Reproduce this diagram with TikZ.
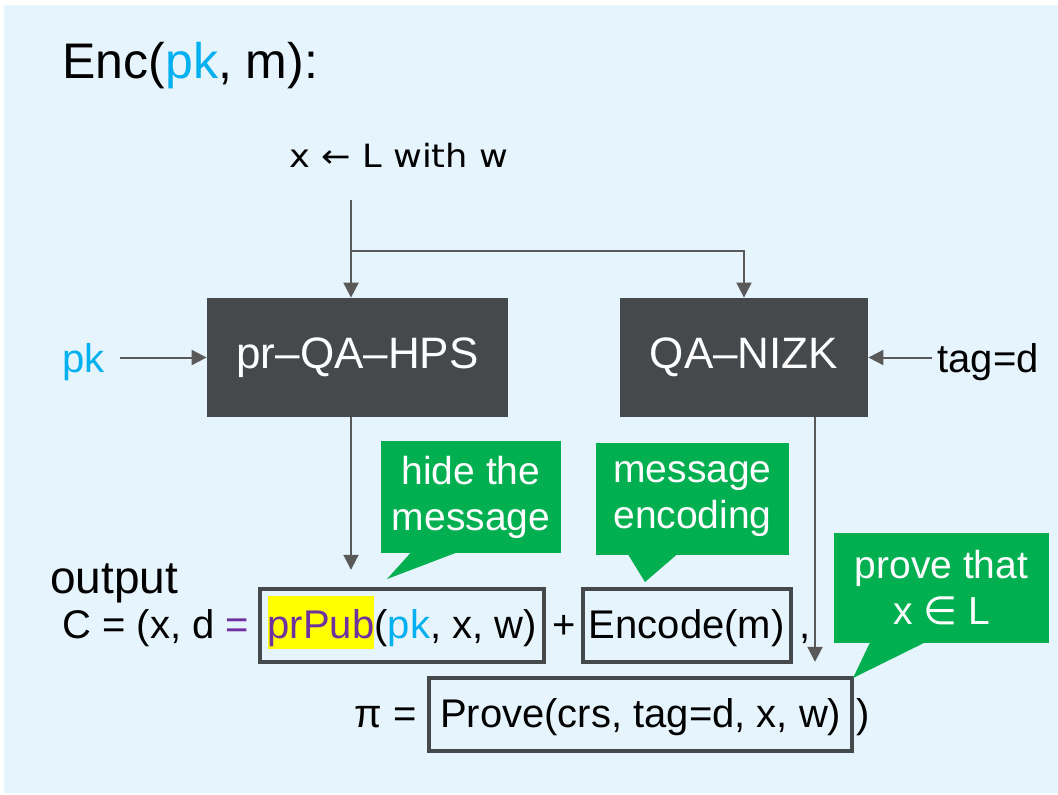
\documentclass[tikz,border=0pt]{standalone}
\usepackage{fontspec}
\setmainfont{Liberation Sans}
\newfontfamily\symfont{DejaVu Sans}
\usepackage{xcolor}
\usetikzlibrary{
    arrows.meta,
    calc,
    positioning,
}
\definecolor{bgblue}{HTML}{E6F4FD}
\definecolor{boxgray}{HTML}{45494C}
\definecolor{linegray}{HTML}{595959}
\definecolor{calloutgreen}{HTML}{00B050}
\definecolor{keycyan}{HTML}{00B0F0}
\definecolor{eqpurple}{HTML}{7030A0}
\definecolor{hlyellow}{HTML}{FFFF00}
\newcommand{\fs}[2]{\fontsize{#1}{#2}\selectfont}
\newcommand{\hl}[1]{{\setlength{\fboxsep}{0pt}\colorbox{hlyellow}{\rule[-5.5pt]{0pt}{26.5pt}#1}}}

\begin{document}
\begin{tikzpicture}[x=0.5pt,y=-0.5pt,>={Triangle[length=7.5pt,width=7.5pt]}]

    \tikzstyle{commonNode}=[inner sep=0pt, align=center]
    \tikzstyle{module}=[commonNode, fill=boxgray, text=white, font=\fs{22}{26}, minimum height=59.5pt]
    \tikzstyle{term}=[commonNode, font=\fs{20}{24}]
    \tikzstyle{slot}=[term, draw=boxgray, line width=2.2pt, text height=24.5pt, text depth=12pt]
    \tikzstyle{callout}=[commonNode, fill=calloutgreen, text=white, font=\fs{19.5}{23}]
    \tikzstyle{link}=[draw=linegray, line width=1pt, ->]

    % Frame
    \useasboundingbox (0,0) rectangle (1058,794);
    \fill[bgblue] (4,5) rectangle (1058,793);

    % Title
    \node at (62,78) [term, anchor=base west, font=\fs{25}{30}] (title) {Enc(\textcolor{keycyan}{pk}, m):};

    % Inputs
    \node at (399,155) [term, font=\symfont\fs{16}{19}] (xin) {\scalebox{1.1}[1]{x ← L with w}};
    \coordinate (xtop) at (351,200);
    \coordinate (split) at (351,251);
    \node at (62,372) [term, anchor=base west, text=keycyan] (pk) {pk};
    \node at (937,372) [term, anchor=base west] (tag) {tag=d};

    % Modules
    \node at (357.5,357.5) [module, minimum width=150.5pt] (hps) {pr–QA–HPS};
    \node at (744,357.5) [module, minimum width=124pt] (nizk) {QA–NIZK};

    % Output
    \node at (50,593) [term, anchor=base west, font=\fs{23}{27}] (outlabel) {output};
    \node at (62,638) [term, anchor=base west] (cline) {C = (x, d \textcolor{eqpurple}{=}};
    \node at (258,638) [slot, anchor=base west, minimum width=142pt] (prpub) {\hl{\textcolor{eqpurple}{prPub}}(\textcolor{keycyan}{pk}, x, w)};
    \node [term, base right=3pt of prpub] (plus) {+};
    \node [slot, base right=2pt of plus, minimum width=104pt] (encode) {Encode(m)};
    \node [term, base right=3pt of encode] (comma) {,};
    \node at (427,727) [slot, anchor=base west, minimum width=211.5pt] (prove) {Prove(crs, tag=d, x, w)};
    \node [term, base left=5pt of prove] (pieq) {π =};
    \node [term, base right=1pt of prove] (close) {)};

    % Connectors
    \draw[link] (xtop) -- (xtop |- hps.north);
    \draw[link] (split) -| (nizk.north);
    \draw[link, shorten <=7.5pt] (pk.east |- hps.west) -- (hps.west);
    \draw[link, shorten <=2.5pt] (tag.west |- nizk.east) -- (nizk.east);
    \draw[link, shorten >=8.5pt] (hps.south -| xtop) -- (xtop |- prpub.north);
    \draw[link, shorten >=7pt] ([xshift=35.5pt]nizk.south) -- ([xshift=35.5pt]nizk.south |- prove.north);

    % Callouts
    \node at (471,497) [callout, minimum width=90pt, minimum height=56pt] (hidenote) {hide the\\message};
    \coordinate (hidetip) at (387,579);
    \fill[calloutgreen] ([xshift=-30pt,yshift=0.5pt]hidenote.south) -- (hidetip) -- ([xshift=-7pt,yshift=0.5pt]hidenote.south) -- cycle;

    \node at (692.5,499) [callout, minimum width=96.5pt, minimum height=56pt] (msgnote) {message\\encoding};
    \coordinate (msgtip) at (645,582);
    \fill[calloutgreen] ([xshift=-32.25pt,yshift=0.5pt]msgnote.south) -- (msgtip) -- ([xshift=-7.75pt,yshift=0.5pt]msgnote.south) -- cycle;

    \node at (941.5,588) [callout, minimum width=107.5pt, minimum height=55pt] (provenote) {prove that\\x {\symfont∈} L};
    \coordinate (provetip) at (853,678);
    \fill[calloutgreen] ([xshift=-35.75pt,yshift=0.5pt]provenote.south) -- (provetip) -- ([xshift=-8.25pt,yshift=0.5pt]provenote.south) -- cycle;

\end{tikzpicture}
\end{document}
